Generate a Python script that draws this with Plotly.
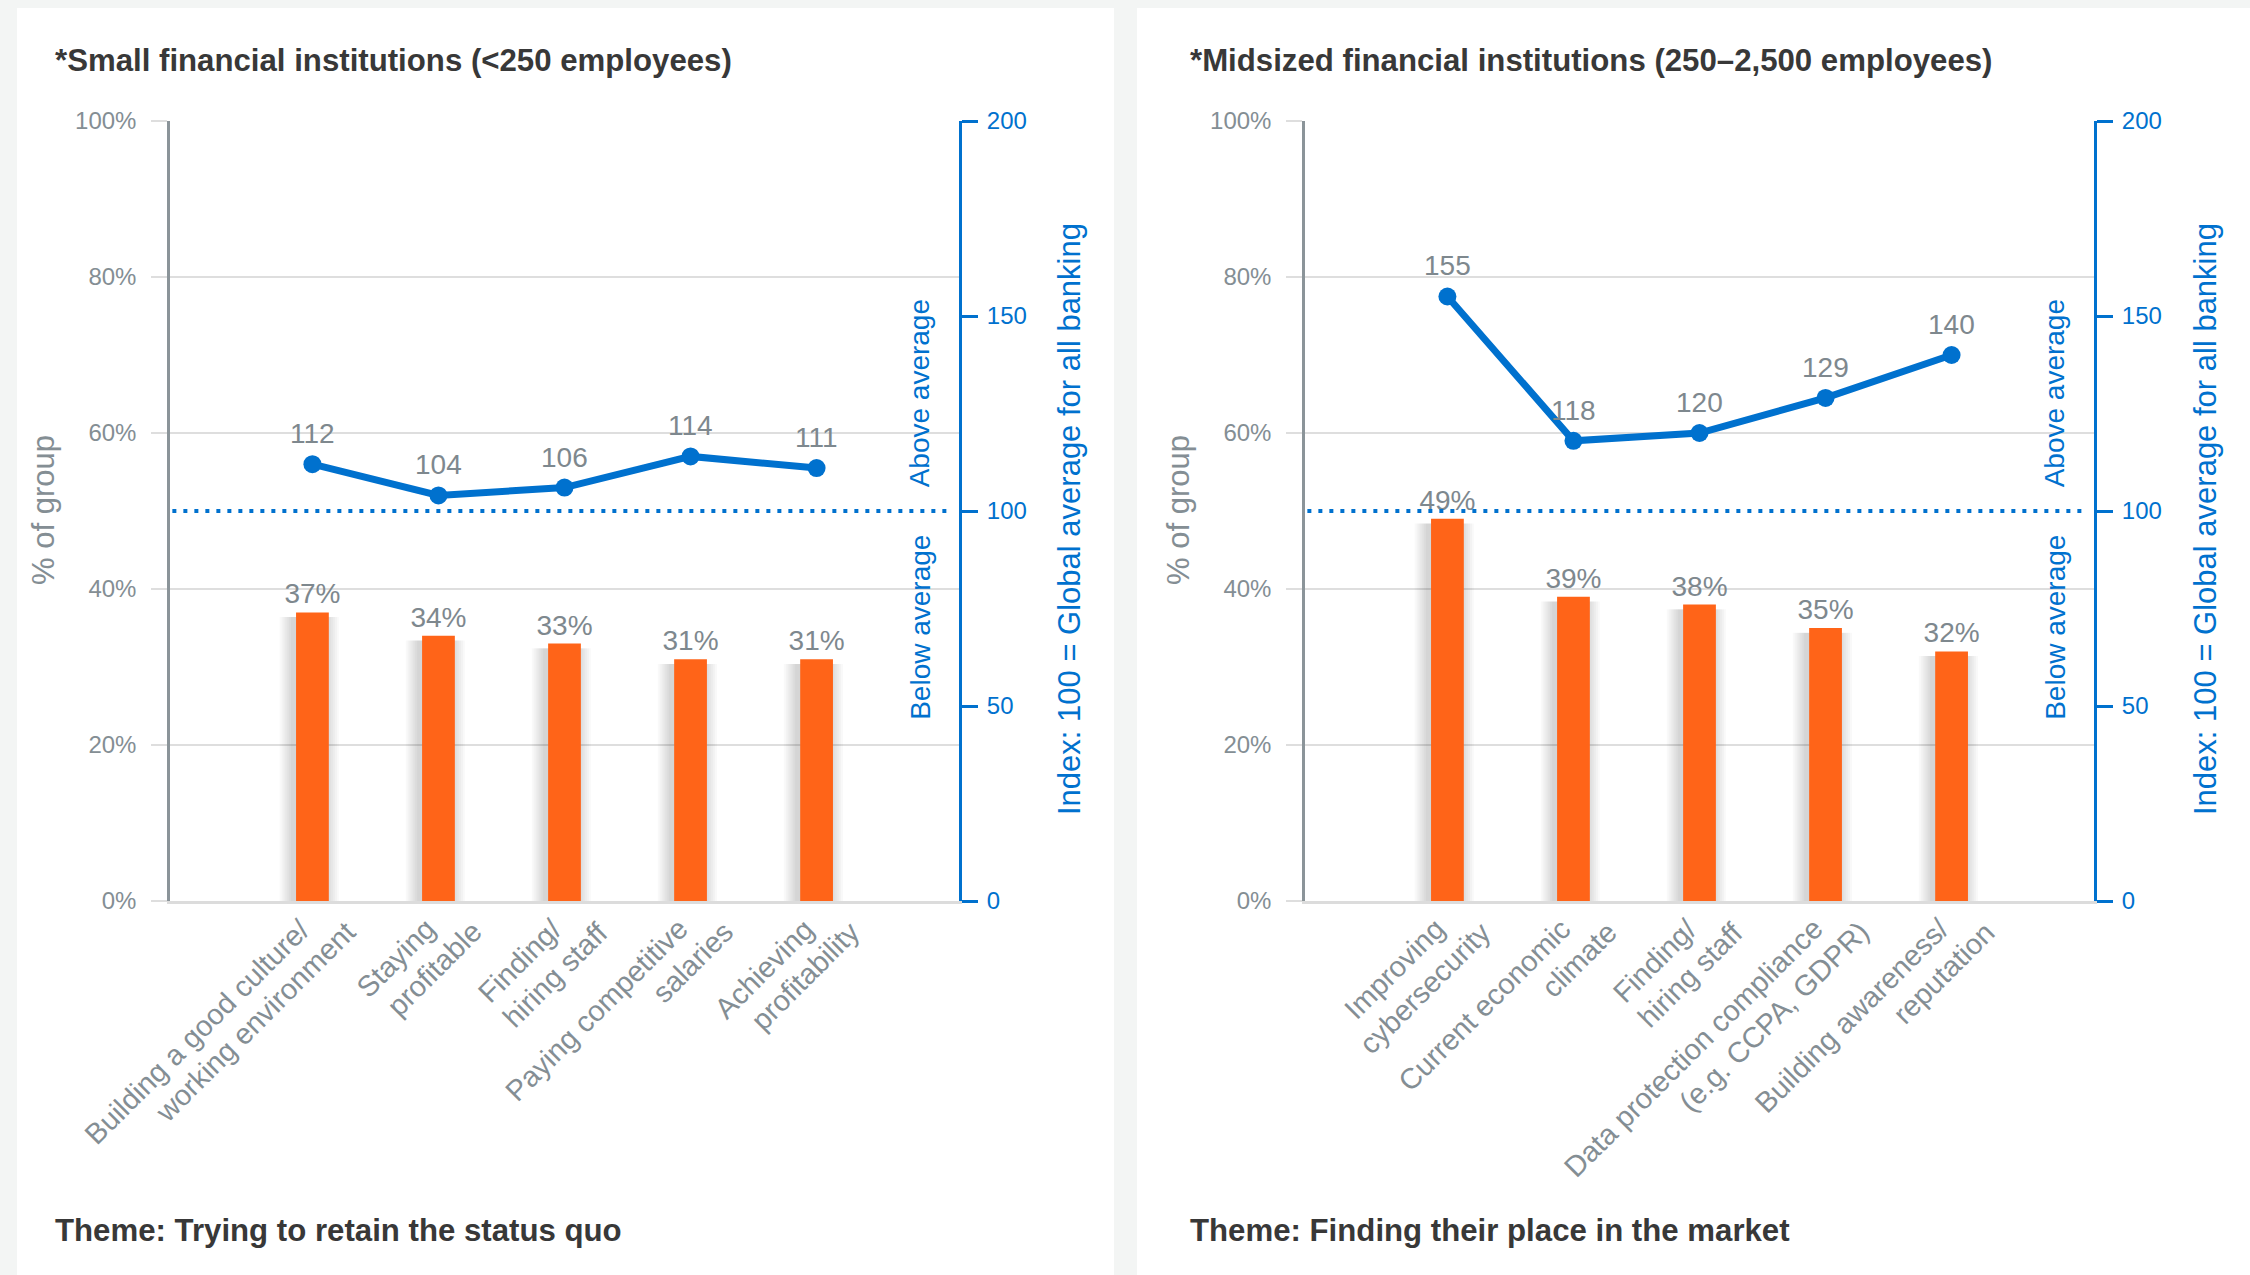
import plotly.graph_objects as go

# ---- data -------------------------------------------------------------
small_categories = [
    "Building a good culture/<br>working environment",
    "Staying<br>profitable",
    "Finding/<br>hiring staff",
    "Paying competitive<br>salaries",
    "Achieving<br>profitability",
]
small_share = [37, 34, 33, 31, 31]          # % of group
small_index = [112, 104, 106, 114, 111]     # index, 100 = global average

mid_categories = [
    "Improving<br>cybersecurity",
    "Current economic<br>climate",
    "Finding/<br>hiring staff",
    "Data protection compliance<br>(e.g. CCPA, GDPR)",
    "Building awareness/<br>reputation",
]
mid_share = [49, 39, 38, 35, 32]
mid_index = [155, 118, 120, 129, 140]

share_ticks = [0, 20, 40, 60, 80, 100]
index_ticks = [0, 50, 100, 150, 200]
INDEX_BASELINE = 100

panel_titles = [
    "*Small financial institutions (<250 employees)",
    "*Midsized financial institutions (250\u20132,500 employees)",
]
panel_themes = [
    "Theme: Trying to retain the status quo",
    "Theme: Finding their place in the market",
]
left_axis_title = "% of group"
right_axis_title = "Index: 100 = Global average for all banking"

# ---- styling -----------------------------------------------------------
W, H = 2250, 1275
FONT = "Liberation Sans, Arial, Helvetica, sans-serif"
ORANGE = "#ff6418"
BLUE = "#0071ce"
GRAY_TXT = "#848e94"
LABEL_TXT = "#7e888e"
DARK_TXT = "#383838"
GRID = "#dedede"
PAGE_BG = "#f3f5f4"

X_RANGE = [-1.13, 5.13]
BAR_W = 0.26

# plot-area pixel extents of the two panels
panels = [
    dict(x0=170, x1=959, cat=small_categories, share=small_share, idx=small_index,
         xa="x", ya="y", ya2="y2", title_x=53, axis_title_x=43, index_title_x=1070),
    dict(x0=1305, x1=2094, cat=mid_categories, share=mid_share, idx=mid_index,
         xa="x2", ya="y3", ya2="y4", title_x=1188, axis_title_x=1178, index_title_x=2206),
]
PLOT_TOP, PLOT_BOT = 121, 901


def px_x(p):
    return p / W


def px_y(p):
    return 1 - p / H


fig = go.Figure()
annotations = []
shapes = []

# white cards on a light page
shapes.append(dict(type="rect", xref="paper", yref="paper", x0=px_x(17), x1=px_x(1114),
                   y0=0, y1=px_y(8), fillcolor="white", line_width=0, layer="below"))
shapes.append(dict(type="rect", xref="paper", yref="paper", x0=px_x(1137), x1=1,
                   y0=0, y1=px_y(8), fillcolor="white", line_width=0, layer="below"))

for pi, p in enumerate(panels):
    xs = list(range(len(p["cat"])))

    # soft shadow behind the bars
    for k in range(1, 8):
        w = BAR_W + 0.03 * k
        fig.add_trace(go.Bar(
            x=xs, y=[v - 0.6 for v in p["share"]],
            width=w, offset=-w / 2 - 0.025,
            marker=dict(color="rgba(0,0,0,0.024)", line_width=0),
            xaxis=p["xa"], yaxis=p["ya"], hoverinfo="skip", showlegend=False,
        ))

    fig.add_trace(go.Bar(
        x=xs, y=p["share"], width=BAR_W,
        marker=dict(color=ORANGE, line_width=0),
        text=[f"{v}%" for v in p["share"]], textposition="outside",
        constraintext="none",
        textfont=dict(family=FONT, size=28, color=LABEL_TXT),
        cliponaxis=False, xaxis=p["xa"], yaxis=p["ya"], showlegend=False,
    ))

    fig.add_trace(go.Scatter(
        x=xs, y=p["idx"], mode="lines+markers",
        line=dict(color=BLUE, width=7),
        marker=dict(color=BLUE, size=18),
        cliponaxis=False, xaxis=p["xa"], yaxis=p["ya2"], showlegend=False,
    ))

    # index values above the markers
    for i, v in enumerate(p["idx"]):
        annotations.append(dict(text=str(v), xref=p["xa"], yref=p["ya2"], x=i, y=v,
                                xanchor="center", yanchor="bottom", yshift=13,
                                showarrow=False,
                                font=dict(family=FONT, size=28, color=LABEL_TXT)))

    # dotted global-average reference line
    shapes.append(dict(type="line", xref=f"{p['xa']} domain", yref=p["ya2"],
                       x0=0.003, x1=0.985, y0=INDEX_BASELINE, y1=INDEX_BASELINE,
                       line=dict(color=BLUE, width=4, dash="4px,7px")))

    # above / below average captions
    annotations.append(dict(text="Above average", xref=f"{p['xa']} domain", yref=p["ya2"],
                            x=0.951, y=INDEX_BASELINE, yshift=22, textangle=-90,
                            xanchor="center", yanchor="bottom", showarrow=False,
                            font=dict(family=FONT, size=28, color=BLUE)))
    annotations.append(dict(text="Below average", xref=f"{p['xa']} domain", yref=p["ya2"],
                            x=0.951, y=INDEX_BASELINE, yshift=-22, textangle=-90,
                            xanchor="center", yanchor="top", showarrow=False,
                            font=dict(family=FONT, size=28, color=BLUE)))

    # rotated category labels, one annotation per line
    for i, lab in enumerate(p["cat"]):
        for k, line in enumerate(lab.split("<br>")):
            annotations.append(dict(
                text=line, xref=p["xa"], yref=p["ya"], x=i, y=0,
                xanchor="right", yanchor="top", textangle=-45,
                xshift=6 + 46 * k, yshift=-9 - 3 * k, showarrow=False,
                font=dict(family=FONT, size=29, color=GRAY_TXT)))

    # panel title and theme
    annotations.append(dict(text=f"<b>{panel_titles[pi]}</b>", xref="paper", yref="paper",
                            x=px_x(p["title_x"]), y=px_y(60), xanchor="left", yanchor="middle",
                            showarrow=False, font=dict(family=FONT, size=31.2, color=DARK_TXT)))
    annotations.append(dict(text=f"<b>{panel_themes[pi]}</b>", xref="paper", yref="paper",
                            x=px_x(p["title_x"]), y=px_y(1230), xanchor="left", yanchor="middle",
                            showarrow=False, font=dict(family=FONT, size=31.2, color=DARK_TXT)))

    # axis titles
    annotations.append(dict(text=left_axis_title, xref="paper", yref="paper",
                            x=px_x(p["axis_title_x"]), y=px_y(510), textangle=-90,
                            xanchor="center", yanchor="middle", showarrow=False,
                            font=dict(family=FONT, size=31, color=GRAY_TXT)))
    annotations.append(dict(text=right_axis_title, xref="paper", yref="paper",
                            x=px_x(p["index_title_x"]), y=px_y(519), textangle=-90,
                            xanchor="center", yanchor="middle", showarrow=False,
                            font=dict(family=FONT, size=31, color=BLUE)))

x_common = dict(range=X_RANGE, showticklabels=False, showgrid=False, zeroline=False,
                showline=True, linecolor="#dcdcdc", linewidth=2.5, ticks="",
                automargin=False, fixedrange=True)
y_left = dict(range=[0, 100], tickmode="array", tickvals=share_ticks,
              ticktext=[f"{v}%" for v in share_ticks], showgrid=True,
              gridcolor=GRID, gridwidth=1.5, zeroline=False, showline=True,
              linecolor="#8b9499", linewidth=2.5, ticks="outside", ticklen=16,
              tickcolor=GRID, tickwidth=1.5, ticklabelstandoff=10, automargin=False,
              tickfont=dict(family=FONT, size=24, color=GRAY_TXT), fixedrange=True)
y_right = dict(range=[0, 200], tickmode="array", tickvals=index_ticks,
               ticktext=[str(v) for v in index_ticks], showgrid=False, zeroline=False,
               showline=True, linecolor=BLUE, linewidth=3, ticks="outside", ticklen=16,
               tickcolor=BLUE, tickwidth=3, ticklabelstandoff=4, side="right",
               automargin=False,
               tickfont=dict(family=FONT, size=24, color=BLUE), fixedrange=True)

dom_y = [px_y(PLOT_BOT), px_y(PLOT_TOP)]
fig.update_layout(
    template="none",
    width=W, height=H, autosize=False,
    margin=dict(l=0, r=0, t=0, b=0, pad=0, autoexpand=False),
    paper_bgcolor=PAGE_BG, plot_bgcolor="rgba(0,0,0,0)",
    barmode="overlay", showlegend=False,
    font=dict(family=FONT),
    xaxis=dict(domain=[px_x(panels[0]["x0"]), px_x(panels[0]["x1"])], anchor="y", **x_common),
    xaxis2=dict(domain=[px_x(panels[1]["x0"]), px_x(panels[1]["x1"])], anchor="y3", **x_common),
    yaxis=dict(domain=dom_y, anchor="x", **y_left),
    yaxis2=dict(overlaying="y", anchor="x", **y_right),
    yaxis3=dict(domain=dom_y, anchor="x2", **y_left),
    yaxis4=dict(overlaying="y3", anchor="x2", **y_right),
    annotations=annotations,
    shapes=shapes,
)

fig.write_html("out.html")
